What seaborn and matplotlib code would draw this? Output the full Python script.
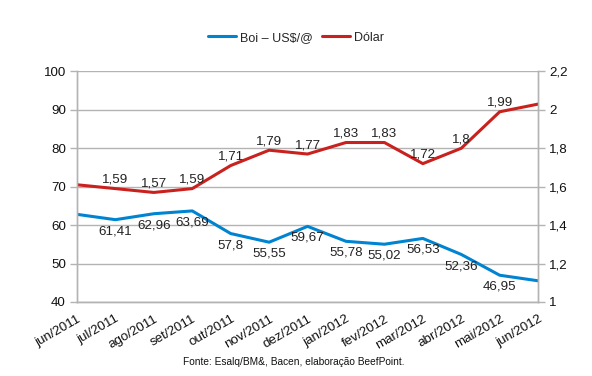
import matplotlib
matplotlib.use("Agg")
import matplotlib.pyplot as plt
import seaborn as sns
import pandas as pd

meses = ["jun/2011", "jul/2011", "ago/2011", "set/2011", "out/2011", "nov/2011",
         "dez/2011", "jan/2012", "fev/2012", "mar/2012", "abr/2012", "mai/2012",
         "jun/2012"]
boi = [62.8, 61.41, 62.96, 63.69, 57.8, 55.55, 59.67, 55.78, 55.02, 56.53,
       52.36, 46.95, 45.5]
dolar = [1.61, 1.59, 1.57, 1.59, 1.71, 1.79, 1.77, 1.83, 1.83, 1.72, 1.8,
         1.99, 2.03]
# first and last points carry no label in the original
boi_labels = [None, "61,41", "62,96", "63,69", "57,8", "55,55", "59,67", "55,78",
              "55,02", "56,53", "52,36", "46,95", None]
dolar_labels = [None, "1,59", "1,57", "1,59", "1,71", "1,79", "1,77", "1,83",
                "1,83", "1,72", "1,8", "1,99", None]

azul = "#0084D1"
vermelho = "#C9211E"
cinza = "#b3b3b3"

sns.set_style("white")
plt.rcParams["font.family"] = ["Liberation Sans", "DejaVu Sans"]

df = pd.DataFrame({"x": range(len(meses)), "boi": boi, "dolar": dolar})

fig = plt.figure(figsize=(5.92, 3.76), dpi=100)
ax = fig.add_axes([0.130, 0.197, 0.779, 0.613])
ax2 = ax.twinx()

sns.lineplot(data=df, x="x", y="boi", ax=ax, color=azul, linewidth=2.2,
             label="Boi – US$/@", legend=False)
sns.lineplot(data=df, x="x", y="dolar", ax=ax2, color=vermelho, linewidth=2.2,
             label="Dólar", legend=False)

fs = 9.6
for i, t in enumerate(boi_labels):
    if t:
        ax.annotate(t, (i, boi[i]), xytext=(0, -4), textcoords="offset points",
                    ha="center", va="top", fontsize=fs, color="#222222")
for i, t in enumerate(dolar_labels):
    if t:
        ax2.annotate(t, (i, dolar[i]), xytext=(0, 2), textcoords="offset points",
                     ha="center", va="bottom", fontsize=fs, color="#222222")

ax.set_xlim(0, len(meses) - 1)
ax.set_ylim(40, 100)
ax.set_yticks(range(40, 101, 10))
ax2.set_ylim(1, 2.2)
ax2.set_yticks([1, 1.2, 1.4, 1.6, 1.8, 2.0, 2.2])
ax2.set_yticklabels(["1", "1,2", "1,4", "1,6", "1,8", "2", "2,2"])

ax.set_xticks(range(len(meses)))
ax.set_xticklabels(meses, rotation=30, ha="right", rotation_mode="anchor")
ax.set_xlabel("")
ax.set_ylabel("")
ax2.set_ylabel("")

ax.grid(axis="y", color=cinza, linewidth=1.0)
ax.set_axisbelow(True)
for a in (ax, ax2):
    for s in a.spines.values():
        s.set_visible(False)
    for s in ("left", "right", "bottom"):
        a.spines[s].set_visible(True)
        a.spines[s].set_color(cinza)
        a.spines[s].set_linewidth(1.0)
ax.tick_params(axis="both", labelsize=fs, length=5, width=1.0, color=cinza,
               labelcolor="#111111", direction="out", pad=3)
ax2.tick_params(axis="y", labelsize=fs, length=5, width=1.0, color=cinza,
                labelcolor="#111111", direction="out", pad=3)

h1, l1 = ax.get_legend_handles_labels()
h2, l2 = ax2.get_legend_handles_labels()
fig.legend(h1 + h2, l1 + l2, loc="center", bbox_to_anchor=(0.5, 0.90),
           ncol=2, frameon=False, fontsize=9.0, handlelength=2.2,
           handletextpad=0.3, columnspacing=0.8)

fig.text(0.497, 0.037, "Fonte: Esalq/BM&, Bacen, elaboração BeefPoint.",
         ha="center", va="center", fontsize=7.3, color="#111111")

fig.savefig("out.png", dpi=100)
